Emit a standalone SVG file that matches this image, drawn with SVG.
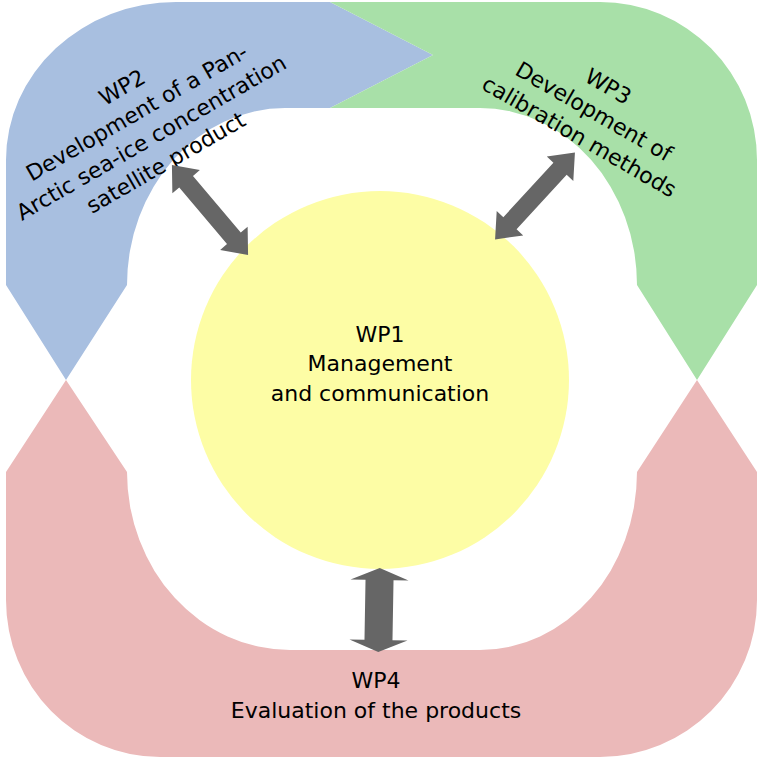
<svg xmlns="http://www.w3.org/2000/svg" width="763" height="763" viewBox="0 0 763 763">
<style>
text{font-family:"DejaVu Sans",sans-serif;font-size:22px;fill:#000;text-anchor:middle}
.arr{fill:#666}
</style>
<rect width="763" height="763" fill="#fff"/>
<g id="wp2">
<path d="M6,285 L6,160 A170,158 0 0 1 176,2 L330,2 L433,55 L330,108 L285,108 A158,177 0 0 0 127,285 L66,380 Z" fill="#a8bfe0"/>
<text transform="translate(148,132) rotate(-30)"><tspan x="0" y="-44">WP2</tspan><tspan x="0" y="-15">Development of a Pan-</tspan><tspan x="0" y="14">Arctic sea-ice concentration</tspan><tspan x="0" y="43">satellite product</tspan></text>
</g>
<g id="wp3">
<path d="M330,2 L600,2 A157,158 0 0 1 757,160 L757,285 L697,380 L637,285 A157,177 0 0 0 480,108 L330,108 L433,55 Z" fill="#a8e0a8"/>
<text transform="translate(590,118) rotate(30)"><tspan x="0" y="-29">WP3</tspan><tspan x="0" y="0">Development of</tspan><tspan x="0" y="29">calibration methods</tspan></text>
</g>
<g id="wp4">
<path d="M6,472 L66,380 L127,472 A163,178 0 0 0 290,650 L480,650 A157,178 0 0 0 637,472 L697,380 L757,472 L757,600 A157,157 0 0 1 600,757 L160,757 A154,157 0 0 1 6,600 Z" fill="#ebb9b9"/>
<text x="376" y="688">WP4</text>
<text x="376" y="718">Evaluation of the products</text>
</g>
<g id="wp1">
<circle cx="380" cy="380" r="189" fill="#fdfda5"/>
<text x="380" y="342">WP1</text>
<text x="380" y="371">Management</text>
<text x="380" y="401">and communication</text>
</g>
<g id="connectors">
<polygon class="arr" transform="translate(210,210) rotate(49.8)" points="-59,0 -37,-18 -37,-9 37,-9 37,-18 59,0 37,18 37,9 -37,9 -37,18"/>
<polygon class="arr" transform="translate(535,196) rotate(132.6)" points="-59,0 -37,-18 -37,-9 37,-9 37,-18 59,0 37,18 37,9 -37,9 -37,18"/>
<polygon class="arr" transform="translate(379,610) rotate(91)" points="-42,0 -30,-29 -30,-14 30,-14 30,-29 42,0 30,29 30,14 -30,14 -30,29"/>
</g>
</svg>
